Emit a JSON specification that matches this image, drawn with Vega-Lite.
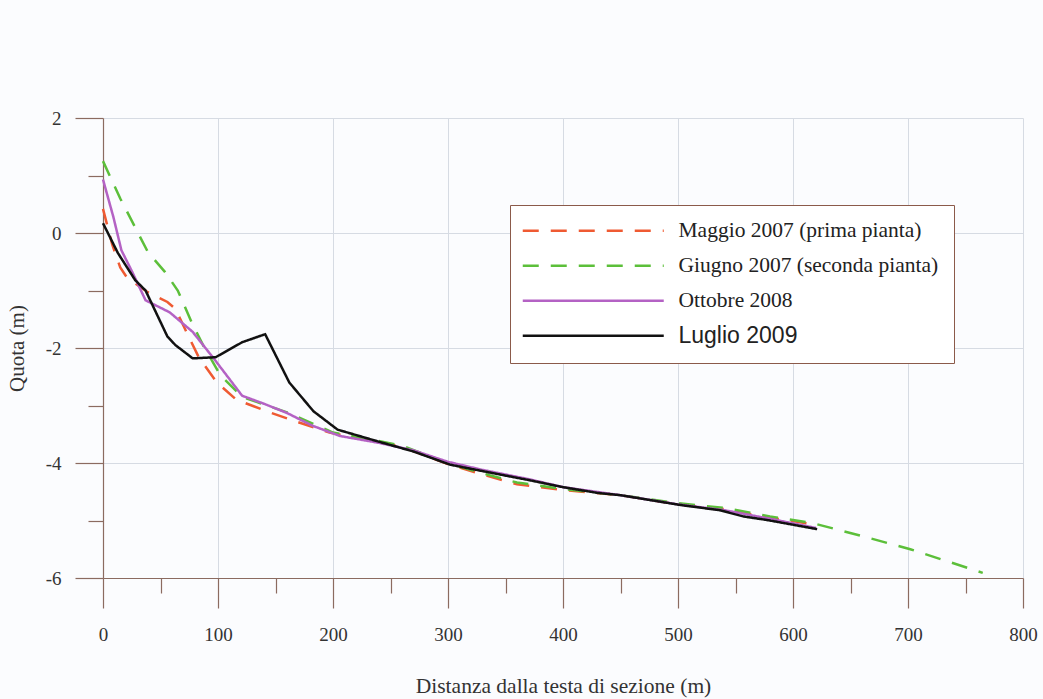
{
  "$schema": "https://vega.github.io/schema/vega-lite/v6.json",
  "width": 920,
  "height": 460,
  "autosize": {"type": "none"},
  "padding": {"left": 103, "top": 118, "right": 20, "bottom": 121},
  "background": "#fbfcfe",
  "config": {
    "view": {"stroke": null},
    "font": "Liberation Serif"
  },
  "data": {
    "values": [
      {"s": "Maggio 2007 (prima pianta)", "x": 0, "y": 0.42},
      {"s": "Maggio 2007 (prima pianta)", "x": 8, "y": -0.2},
      {"s": "Maggio 2007 (prima pianta)", "x": 15, "y": -0.6},
      {"s": "Maggio 2007 (prima pianta)", "x": 21, "y": -0.78},
      {"s": "Maggio 2007 (prima pianta)", "x": 39, "y": -1.03},
      {"s": "Maggio 2007 (prima pianta)", "x": 56, "y": -1.2},
      {"s": "Maggio 2007 (prima pianta)", "x": 63, "y": -1.32},
      {"s": "Maggio 2007 (prima pianta)", "x": 73, "y": -1.74},
      {"s": "Maggio 2007 (prima pianta)", "x": 83, "y": -2.15},
      {"s": "Maggio 2007 (prima pianta)", "x": 99, "y": -2.6},
      {"s": "Maggio 2007 (prima pianta)", "x": 116, "y": -2.9},
      {"s": "Maggio 2007 (prima pianta)", "x": 145, "y": -3.12},
      {"s": "Maggio 2007 (prima pianta)", "x": 168, "y": -3.28},
      {"s": "Maggio 2007 (prima pianta)", "x": 197, "y": -3.47},
      {"s": "Maggio 2007 (prima pianta)", "x": 230, "y": -3.6},
      {"s": "Maggio 2007 (prima pianta)", "x": 260, "y": -3.72},
      {"s": "Maggio 2007 (prima pianta)", "x": 300, "y": -4.02},
      {"s": "Maggio 2007 (prima pianta)", "x": 330, "y": -4.2},
      {"s": "Maggio 2007 (prima pianta)", "x": 360, "y": -4.37},
      {"s": "Maggio 2007 (prima pianta)", "x": 400, "y": -4.47},
      {"s": "Maggio 2007 (prima pianta)", "x": 450, "y": -4.56},
      {"s": "Maggio 2007 (prima pianta)", "x": 500, "y": -4.72},
      {"s": "Maggio 2007 (prima pianta)", "x": 540, "y": -4.8},
      {"s": "Maggio 2007 (prima pianta)", "x": 580, "y": -4.95},
      {"s": "Maggio 2007 (prima pianta)", "x": 615, "y": -5.06},

      {"s": "Giugno 2007 (seconda pianta)", "x": 0, "y": 1.25},
      {"s": "Giugno 2007 (seconda pianta)", "x": 15, "y": 0.6},
      {"s": "Giugno 2007 (seconda pianta)", "x": 39, "y": -0.33},
      {"s": "Giugno 2007 (seconda pianta)", "x": 54, "y": -0.68},
      {"s": "Giugno 2007 (seconda pianta)", "x": 65, "y": -1.0},
      {"s": "Giugno 2007 (seconda pianta)", "x": 77, "y": -1.55},
      {"s": "Giugno 2007 (seconda pianta)", "x": 87, "y": -1.95},
      {"s": "Giugno 2007 (seconda pianta)", "x": 102, "y": -2.47},
      {"s": "Giugno 2007 (seconda pianta)", "x": 121, "y": -2.85},
      {"s": "Giugno 2007 (seconda pianta)", "x": 160, "y": -3.12},
      {"s": "Giugno 2007 (seconda pianta)", "x": 200, "y": -3.47},
      {"s": "Giugno 2007 (seconda pianta)", "x": 230, "y": -3.58},
      {"s": "Giugno 2007 (seconda pianta)", "x": 260, "y": -3.7},
      {"s": "Giugno 2007 (seconda pianta)", "x": 300, "y": -4.0},
      {"s": "Giugno 2007 (seconda pianta)", "x": 330, "y": -4.18},
      {"s": "Giugno 2007 (seconda pianta)", "x": 360, "y": -4.34},
      {"s": "Giugno 2007 (seconda pianta)", "x": 400, "y": -4.45},
      {"s": "Giugno 2007 (seconda pianta)", "x": 450, "y": -4.56},
      {"s": "Giugno 2007 (seconda pianta)", "x": 500, "y": -4.7},
      {"s": "Giugno 2007 (seconda pianta)", "x": 540, "y": -4.78},
      {"s": "Giugno 2007 (seconda pianta)", "x": 580, "y": -4.93},
      {"s": "Giugno 2007 (seconda pianta)", "x": 618, "y": -5.05},
      {"s": "Giugno 2007 (seconda pianta)", "x": 660, "y": -5.27},
      {"s": "Giugno 2007 (seconda pianta)", "x": 702, "y": -5.5},
      {"s": "Giugno 2007 (seconda pianta)", "x": 765, "y": -5.91},

      {"s": "Ottobre 2008", "x": 0, "y": 0.93},
      {"s": "Ottobre 2008", "x": 9, "y": 0.28},
      {"s": "Ottobre 2008", "x": 16, "y": -0.3},
      {"s": "Ottobre 2008", "x": 25, "y": -0.66},
      {"s": "Ottobre 2008", "x": 37, "y": -1.17},
      {"s": "Ottobre 2008", "x": 58, "y": -1.38},
      {"s": "Ottobre 2008", "x": 78, "y": -1.72},
      {"s": "Ottobre 2008", "x": 97, "y": -2.2},
      {"s": "Ottobre 2008", "x": 121, "y": -2.83},
      {"s": "Ottobre 2008", "x": 140, "y": -2.97},
      {"s": "Ottobre 2008", "x": 160, "y": -3.13},
      {"s": "Ottobre 2008", "x": 182, "y": -3.35},
      {"s": "Ottobre 2008", "x": 206, "y": -3.53},
      {"s": "Ottobre 2008", "x": 240, "y": -3.65},
      {"s": "Ottobre 2008", "x": 270, "y": -3.78},
      {"s": "Ottobre 2008", "x": 300, "y": -3.98},
      {"s": "Ottobre 2008", "x": 330, "y": -4.12},
      {"s": "Ottobre 2008", "x": 370, "y": -4.28},
      {"s": "Ottobre 2008", "x": 400, "y": -4.42},
      {"s": "Ottobre 2008", "x": 450, "y": -4.56},
      {"s": "Ottobre 2008", "x": 500, "y": -4.72},
      {"s": "Ottobre 2008", "x": 540, "y": -4.82},
      {"s": "Ottobre 2008", "x": 580, "y": -4.97},
      {"s": "Ottobre 2008", "x": 620, "y": -5.13},

      {"s": "Luglio 2009", "x": 0, "y": 0.17},
      {"s": "Luglio 2009", "x": 13, "y": -0.35},
      {"s": "Luglio 2009", "x": 28, "y": -0.82},
      {"s": "Luglio 2009", "x": 37, "y": -1.0},
      {"s": "Luglio 2009", "x": 56, "y": -1.8},
      {"s": "Luglio 2009", "x": 63, "y": -1.95},
      {"s": "Luglio 2009", "x": 78, "y": -2.18},
      {"s": "Luglio 2009", "x": 98, "y": -2.16},
      {"s": "Luglio 2009", "x": 121, "y": -1.9},
      {"s": "Luglio 2009", "x": 141, "y": -1.76},
      {"s": "Luglio 2009", "x": 162, "y": -2.6},
      {"s": "Luglio 2009", "x": 183, "y": -3.1},
      {"s": "Luglio 2009", "x": 204, "y": -3.42},
      {"s": "Luglio 2009", "x": 240, "y": -3.63},
      {"s": "Luglio 2009", "x": 270, "y": -3.8},
      {"s": "Luglio 2009", "x": 302, "y": -4.03},
      {"s": "Luglio 2009", "x": 340, "y": -4.18},
      {"s": "Luglio 2009", "x": 371, "y": -4.3},
      {"s": "Luglio 2009", "x": 400, "y": -4.42},
      {"s": "Luglio 2009", "x": 430, "y": -4.52},
      {"s": "Luglio 2009", "x": 450, "y": -4.56},
      {"s": "Luglio 2009", "x": 502, "y": -4.73},
      {"s": "Luglio 2009", "x": 536, "y": -4.82},
      {"s": "Luglio 2009", "x": 557, "y": -4.93},
      {"s": "Luglio 2009", "x": 577, "y": -4.99},
      {"s": "Luglio 2009", "x": 621, "y": -5.15}
    ]
  },
  "mark": {"type": "line", "strokeWidth": 2.5},
  "encoding": {
    "x": {
      "field": "x",
      "type": "quantitative",
      "scale": {"domain": [0, 800], "nice": false},
      "axis": {
        "values": [0, 50, 100, 150, 200, 250, 300, 350, 400, 450, 500, 550, 600, 650, 700, 750, 800],
        "labelExpr": "datum.value % 100 === 0 ? datum.label : ''",
        "format": "d",
        "tickSize": {"condition": {"test": "datum.value % 100 === 0", "value": 30}, "value": 15},
        "tickColor": "#8b6b60",
        "domainColor": "#8b6b60",
        "tickWidth": 1.2,
        "domainWidth": 1.2,
        "gridColor": "#d6dbe3",
        "gridOpacity": {"condition": {"test": "datum.value % 100 === 0", "value": 1}, "value": 0},
        "labelFont": "Liberation Serif",
        "labelFontSize": 19,
        "labelColor": "#333333",
        "labelPadding": 17,
        "labelFlush": false,
        "labelOverlap": false,
        "title": "Distanza dalla testa di sezione (m)",
        "titleFont": "Liberation Serif",
        "titleFontSize": 21.5,
        "titleFontWeight": "normal",
        "titleColor": "#333333",
        "titlePadding": 31
      }
    },
    "y": {
      "field": "y",
      "type": "quantitative",
      "scale": {"domain": [-6, 2], "nice": false},
      "axis": {
        "values": [-6, -5, -4, -3, -2, -1, 0, 1, 2],
        "labelExpr": "datum.value % 2 === 0 ? '' + datum.value : ''",
        "tickSize": {"condition": {"test": "datum.value % 2 === 0", "value": 28}, "value": 15},
        "tickColor": "#8b6b60",
        "domainColor": "#8b6b60",
        "tickWidth": 1.2,
        "domainWidth": 1.2,
        "gridColor": "#d6dbe3",
        "gridOpacity": {"condition": {"test": "datum.value % 2 === 0", "value": 1}, "value": 0},
        "labelFont": "Liberation Serif",
        "labelFontSize": 19,
        "labelColor": "#333333",
        "labelPadding": 14,
        "labelOverlap": false,
        "title": "Quota (m)",
        "titleFont": "Liberation Serif",
        "titleFontSize": 21,
        "titleFontWeight": "normal",
        "titleColor": "#333333",
        "titlePadding": 18
      }
    },
    "color": {
      "field": "s",
      "type": "nominal",
      "scale": {
        "domain": ["Maggio 2007 (prima pianta)", "Giugno 2007 (seconda pianta)", "Ottobre 2008", "Luglio 2009"],
        "range": ["#ef5a32", "#5cbf3a", "#b462c4", "#111111"]
      },
      "legend": {
        "orient": "none",
        "legendX": 407,
        "legendY": 87,
        "title": null,
        "symbolType": "M0,0H141",
        "symbolSize": 4,
        "symbolOffset": -13,
        "symbolStrokeWidth": 2.5,
        "labelFont": "Liberation Serif",
        "labelFontSize": 21.5,
        "labelColor": "#222222",
        "labelOffset": 145,
        "labelLimit": 400,
        "rowPadding": 12,
        "padding": 15,
        "strokeColor": "#8b5a4a",
        "fillColor": "#ffffff",
        "encode": {
          "labels": {
            "update": {
              "font": {"signal": "datum.label === 'Luglio 2009' ? 'Liberation Sans' : 'Liberation Serif'"},
              "fontSize": {"signal": "datum.label === 'Luglio 2009' ? 23 : 21.5"}
            }
          }
        }
      }
    },
    "strokeDash": {
      "field": "s",
      "type": "nominal",
      "scale": {
        "domain": ["Maggio 2007 (prima pianta)", "Giugno 2007 (seconda pianta)", "Ottobre 2008", "Luglio 2009"],
        "range": [[16, 12], [16, 12], [1, 0], [1, 0]]
      },
      "legend": null
    }
  }
}
